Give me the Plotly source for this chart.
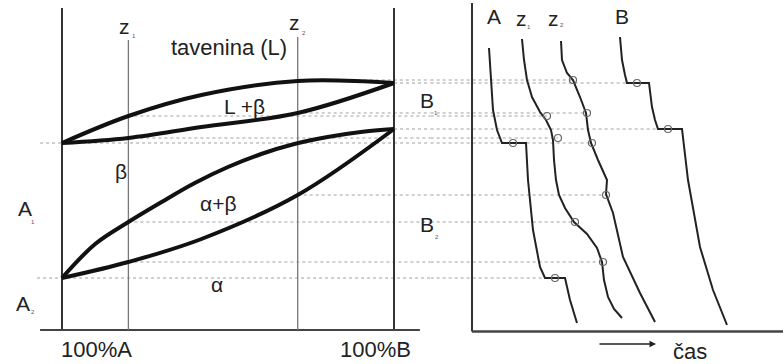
import plotly.graph_objects as go

# ---------------- data ----------------
# phase diagram: composition (% B) vs temperature (arbitrary units)
comp_liq = [0, 20, 42, 71, 100]
T_liq = [187, 214, 235, 249, 247]
comp_sol = [0, 20, 42, 71, 100]
T_sol = [187, 192, 203, 217, 247]
comp_ab_up = [0, 10, 20, 30, 40, 50, 60, 70, 80, 90, 100]
T_ab_up = [52, 86, 108, 128, 147, 163, 176, 186, 193, 198, 201]
comp_ab_lo = [0, 20, 42, 71, 100]
T_ab_lo = [52, 68, 91, 135, 201]
z_comp = [20, 71]
z_top = [290, 293]

# cooling curves: time vs temperature
tA = [17, 19, 21, 25, 30, 54, 56, 61, 68, 73, 93, 98, 105]
TA = [282, 247, 220, 200, 187, 187, 150, 100, 63, 52, 52, 30, 7]
tZ1 = [50, 52, 55, 60, 68, 74, 79, 81, 82, 84, 87, 93, 102, 115, 125, 130, 132, 136, 142, 150]
TZ1 = [291, 270, 250, 233, 218, 210, 200, 190, 170, 150, 135, 122, 108, 96, 82, 68, 50, 33, 21, 12]
tZ2 = [89, 90, 95, 101, 108, 114, 116, 119, 126, 135, 134, 141, 151, 168, 183]
TZ2 = [289, 270, 257, 250, 233, 217, 200, 187, 170, 150, 136, 117, 73, 37, 8]
tB = [148, 150, 153, 155, 177, 180, 183, 186, 210, 213, 216, 228, 241, 255]
TB = [293, 270, 255, 247, 247, 223, 210, 201, 201, 173, 150, 83, 40, 5]

# break points (circles)
circ_t = [41, 83, 75, 86, 103, 131, 101, 115, 120, 134, 165, 196]
circ_T = [187, 52, 214, 192, 108, 68, 250, 217, 187, 135, 247, 201]

# guide lines: start composition, temperature, end time
guide_c = [71, 100, 71, 20, 100, 20, -6.6, 71, 20, 20, -7.5]
guide_T = [250, 247, 217, 214, 201, 192, 187, 135, 108, 68, 52]
guide_t = [101, 165, 115, 75, 196, 86, 120, 134, 103, 131, 83]

# ---------------- layout constants ----------------
XR1 = [-18.67, 111.04]
XR2 = [-41.35, 311]
YR = [-34, 330]

fig = go.Figure()

def add(x, y, axis="x", **line):
    fig.add_trace(go.Scatter(x=x, y=y, mode="lines", xaxis=axis, yaxis="y",
                             line=line, hoverinfo="skip", showlegend=False))

# dotted guide lines (two segments across both panels)
for c, T, t in zip(guide_c, guide_T, guide_t):
    add([c, XR1[1]], [T, T], "x", color="#a0a0a0", width=1.2, dash="dot")
    add([XR2[0], t], [T, T], "x2", color="#a0a0a0", width=1.2, dash="dot")

# frame of phase diagram
add([0, 0], [0, 322], "x", color="#333", width=2)
add([100, 100], [0, 322], "x", color="#333", width=2)
add([-6.6, 107.8], [0, 0], "x", color="#444", width=2)
for zc, zt in zip(z_comp, z_top):
    add([zc, zc], [0, zt], "x", color="#777", width=1.3)

# lens curves
for cx, ty in [(comp_liq, T_liq), (comp_sol, T_sol), (comp_ab_up, T_ab_up), (comp_ab_lo, T_ab_lo)]:
    add(cx, ty, "x", color="#111", width=4, shape="spline", smoothing=1)

# cooling panel frame
add([0, 0], [-1.5, 327], "x2", color="#333", width=2)
add([0, 311], [-1.5, -1.5], "x2", color="#444", width=2.5)

# cooling curves
for tx, ty in [(tA, TA), (tZ1, TZ1), (tZ2, TZ2), (tB, TB)]:
    add(tx, ty, "x2", color="#222", width=2)

fig.add_trace(go.Scatter(x=circ_t, y=circ_T, mode="markers", xaxis="x2", yaxis="y",
                         marker=dict(symbol="circle-open", size=7, color="#666", line=dict(width=1.2)),
                         hoverinfo="skip", showlegend=False))

FONT = "Arial, Liberation Sans, sans-serif"
ann = []
def txt(x, y, s, ref="x", size=21, color="#222"):
    ann.append(dict(x=x, y=y, xref=ref, yref="y", text=s, showarrow=False,
                    font=dict(family=FONT, size=size, color=color), xanchor="center", yanchor="middle"))

txt(50.3, 283, "tavenina (L)", size=22)
txt(18.7, 304, "z")
txt(21.6, 294, "1", size=6, color="#555")
txt(69.9, 308, "z")
txt(72.8, 297, "2", size=6, color="#555")
txt(55.1, 224, "L +β", size=21)
txt(17.8, 159, "β", size=21)
txt(47, 127, "α+β", size=21)
txt(46.7, 46, "α", size=21)
txt(-11.1, 122, "A")
txt(-8.6, 108, "1", size=6, color="#555")
txt(-11.7, 27, "A")
txt(-8.6, 18, "2", size=6, color="#555")
txt(109.9, 230, "B")
txt(-36, 217, "1", ref="x2", size=6, color="#555")
txt(109.9, 106, "B")
txt(-35, 93, "2", ref="x2", size=6, color="#555")
txt(10.5, -19, "100%A", size=22)
txt(94.3, -19, "100%B", size=22)
txt(22, 314, "A", ref="x2")
txt(49, 312, "z", ref="x2")
txt(57, 303, "1", ref="x2", size=6, color="#555")
txt(81, 312, "z", ref="x2")
txt(90, 305, "2", ref="x2", size=6, color="#555")
txt(150, 314, "B", ref="x2")
txt(218, -21, "čas", ref="x2", size=22)
ann.append(dict(x=184, y=-14, ax=126, ay=-14, xref="x2", yref="y", axref="x2", ayref="y",
                text="", showarrow=True, arrowhead=2, arrowsize=1, arrowwidth=1.3, arrowcolor="#222"))

fig.update_layout(
    width=783, height=364, margin=dict(l=0, r=0, t=0, b=0),
    paper_bgcolor="white", plot_bgcolor="white", showlegend=False,
    xaxis=dict(domain=[0, 0.55], range=XR1, visible=False, fixedrange=True),
    xaxis2=dict(domain=[0.55, 1], range=XR2, visible=False, anchor="y", fixedrange=True),
    yaxis=dict(domain=[0, 1], range=YR, visible=False, fixedrange=True),
    annotations=ann,
)

fig.write_html("out.html")
